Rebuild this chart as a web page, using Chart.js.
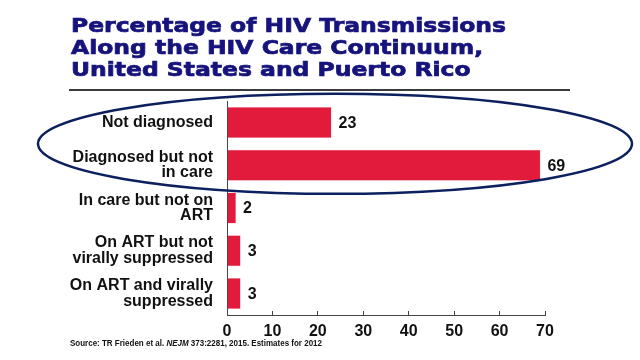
<!DOCTYPE html>
<html>
<head>
<meta charset="utf-8">
<script src="https://cdn.jsdelivr.net/npm/chart.js@4"></script>
<style>
  body { margin: 0; background: #fff; }
  #wrap { position: relative; width: 640px; height: 360px; overflow: hidden; }
  #chart { position: absolute; left: 0; top: 0; }
  .title {
    position: absolute; left: 71px; top: 15px; z-index: 2;
    font-family: "DejaVu Sans", sans-serif; font-weight: bold; font-size: 19.5px;
    line-height: 22px; color: #16137c; white-space: nowrap;
    -webkit-text-stroke: 0.7px #16137c; transform-origin: 0 0;
  }
  .rule { position: absolute; left: 69px; top: 89px; width: 501px; height: 2px; background: #3a3a3a; }
  .source {
    position: absolute; left: 70px; top: 338px; z-index: 2;
    font-family: "Liberation Sans Narrow", "Liberation Sans", sans-serif; font-weight: bold;
    font-size: 9px; color: #111; white-space: nowrap; transform-origin: 0 0;
  }
</style>
</head>
<body>
<div id="wrap">
  <canvas id="chart" width="640" height="360"></canvas>
  <div class="title" id="title"><span id="t1">Percentage of HIV Transmissions</span><br>Along the HIV Care Continuum,<br>United States and Puerto Rico</div>
  <div class="rule"></div>
  <div class="source" id="source">Source: TR Frieden et al. <i>NEJM</i> 373:2281, 2015. Estimates for 2012</div>
</div>
<script>
const categories = [
    'Not diagnosed',
    ['Diagnosed but not', 'in care'],
    ['In care but not on', 'ART'],
    ['On ART but not', 'virally suppressed'],
    ['On ART and virally', 'suppressed']
];
const transmission_pct = [23, 69, 2, 3, 3];
const x_min = 0;
const x_max = 70;
const x_step = 10;

// stretch the heavy title / condensed source to the widths seen in the slide
const t1 = document.getElementById("t1");
const title_block = document.getElementById("title");
title_block.style.transform = `scaleX(${435 / t1.getBoundingClientRect().width})`;
const source_block = document.getElementById("source");
source_block.style.transform = `scaleX(${252 / source_block.getBoundingClientRect().width})`;

const value_labels = {
    id: 'value_labels',
    afterDatasetsDraw(chart) {
        const ctx = chart.ctx;
        const meta = chart.getDatasetMeta(0);
        ctx.save();
        ctx.font = 'bold 16px "Liberation Sans", Arial, sans-serif';
        ctx.fillStyle = '#111';
        ctx.textBaseline = 'middle';
        ctx.textAlign = 'left';
        meta.data.forEach((bar, i) => {
            ctx.fillText(transmission_pct[i], bar.x + 7, bar.y + 1);
        });
        ctx.restore();
    }
};

const highlight_ellipse = {
    id: 'highlight_ellipse',
    afterDraw(chart) {
        const y = chart.scales.y;
        const cy = (y.getPixelForValue(0) + y.getPixelForValue(1)) / 2;
        const ctx = chart.ctx;
        ctx.save();
        ctx.strokeStyle = '#0c1f5e';
        ctx.lineWidth = 2.5;
        ctx.beginPath();
        ctx.ellipse(335, cy, 297, 50, 0, 0, Math.PI * 2);
        ctx.stroke();
        ctx.restore();
    }
};

const data = {
    labels: categories,
    datasets: [{
        data: transmission_pct,
        backgroundColor: '#e21b3c',
        borderColor: '#f3a0ad',
        borderWidth: 0.5,
        categoryPercentage: 1,
        barPercentage: 0.725
    }]
};

const config = {
    type: 'bar',
    data: data,
    options: {
        indexAxis: 'y',
        responsive: false,
        animation: false,
        layout: { padding: { top: 101, right: 95, bottom: 0, left: 0 } },
        scales: {
            x: {
                min: x_min,
                max: x_max,
                afterFit: (scale) => { scale.height = 45; },
                grid: { drawOnChartArea: false, drawTicks: true, tickLength: -4, color: '#444', lineWidth: 1 },
                border: { display: true, color: '#444', width: 1 },
                ticks: {
                    stepSize: x_step,
                    padding: 11,
                    color: '#111',
                    font: { family: '"Liberation Sans", Arial, sans-serif', weight: 'bold', size: 16 }
                }
            },
            y: {
                afterFit: (scale) => { scale.width = 227; },
                grid: { display: false, drawTicks: false },
                border: { display: true, color: '#444', width: 1 },
                ticks: {
                    padding: 14,
                    color: '#111',
                    font: { family: '"Liberation Sans", Arial, sans-serif', weight: 'bold', size: 16, lineHeight: 0.98 }
                }
            }
        },
        plugins: {
            legend: { display: false },
            tooltip: { enabled: false }
        }
    },
    plugins: [value_labels, highlight_ellipse]
};

var ctx_bar = document.getElementById("chart");
var bar_chart = new Chart(ctx_bar, config);
</script>
</body>
</html>
